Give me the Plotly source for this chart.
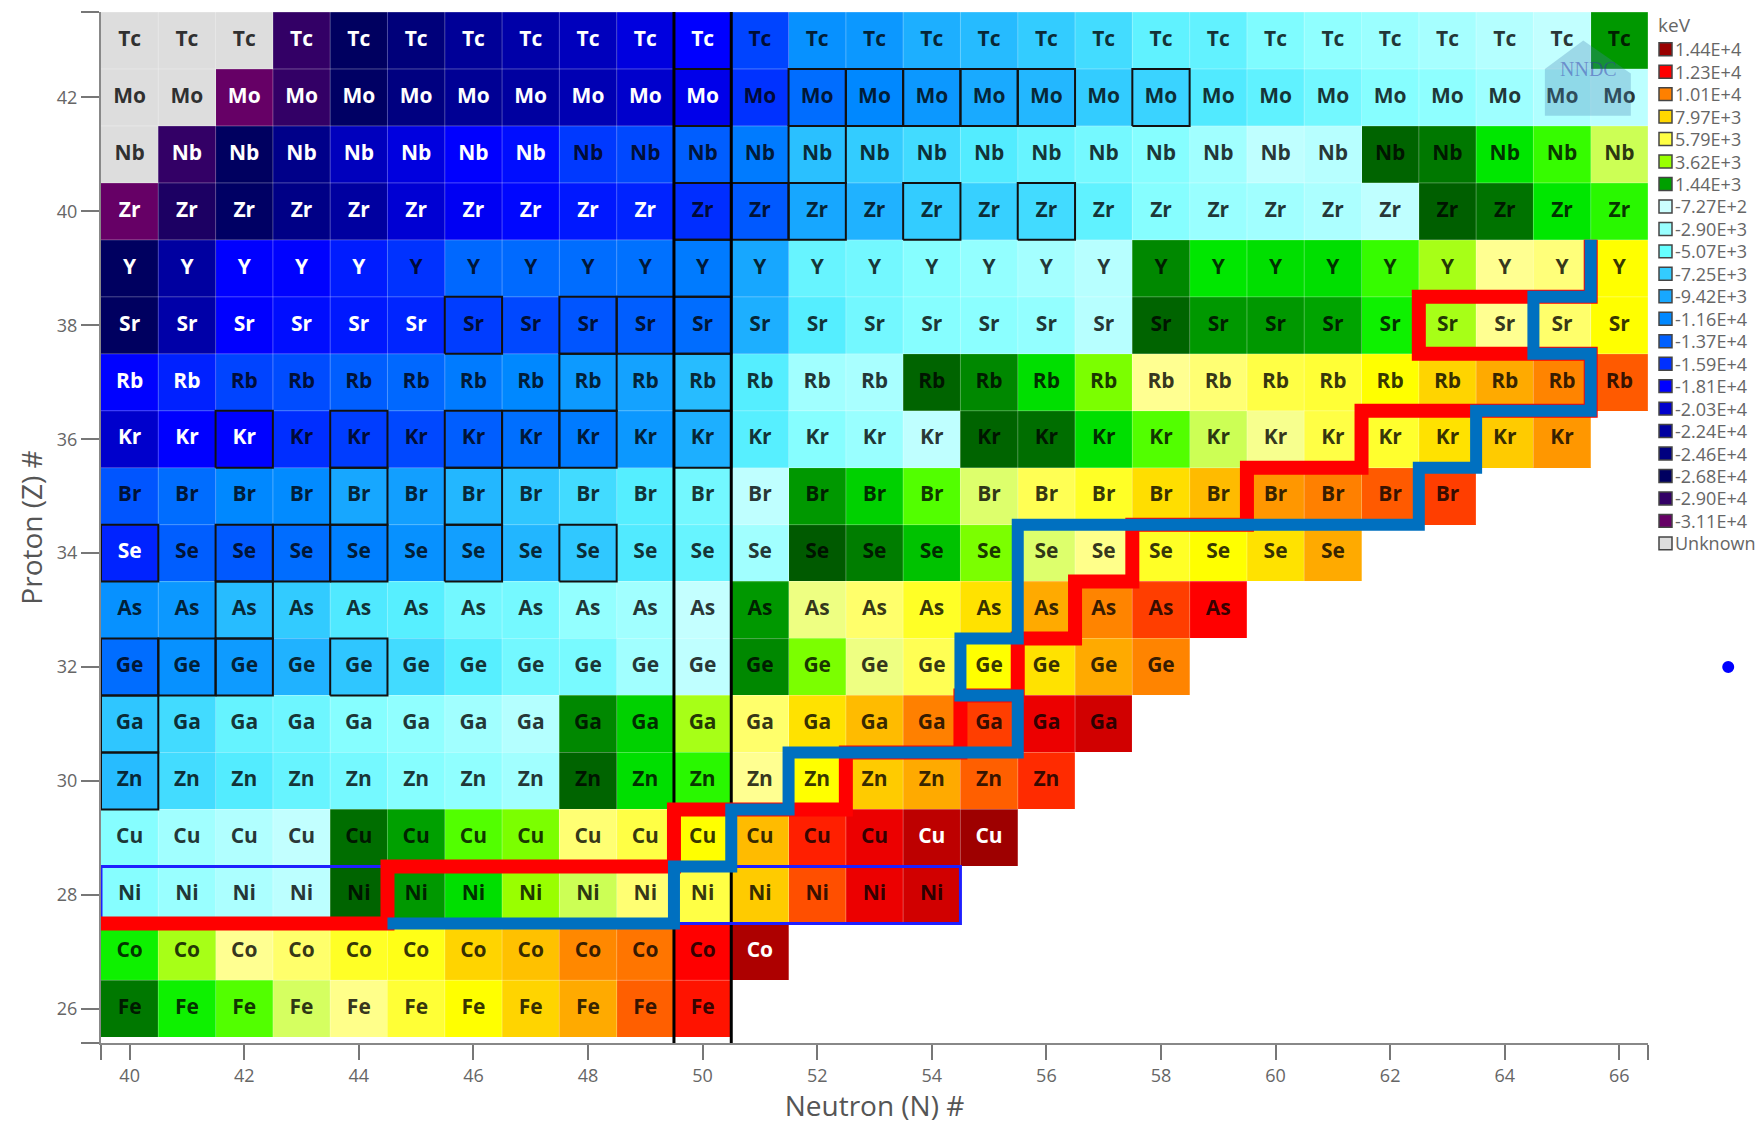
import plotly.graph_objects as go

# ---------------- data ----------------
N_VALUES = list(range(40, 67))
Z_VALUES = list(range(26, 44))
SYMBOLS = ['Fe', 'Co', 'Ni', 'Cu', 'Zn', 'Ga', 'Ge', 'As', 'Se', 'Br',
           'Kr', 'Rb', 'Sr', 'Y', 'Zr', 'Nb', 'Mo', 'Tc']

# values in keV, one list per element, starting at N=40 (None = unknown)
fe = [700, 2600, 3100, 4400, 5100, 6200, 6900, 7800, 9000, 10700, 12000]
co = [2600, 3800, 5000, 5500, 6400, 6600, 7800, 8300, 9900, 10300, 12300, 14000]
ni = [-3000, -2300, -1600, -1000, 300, 1300, 2300, 3620, 4300, 5400, 6000, 8000, 11000, 12700, 13300]
cu = [-3000, -2000, -1400, -800, 500, 1440, 3100, 3400, 5400, 6000, 6900, 8500, 11800, 12700, 13700, 14300]
zn = [-8200, -6200, -5200, -4300, -3700, -3000, -2600, -2000, 300, 2300, 2800, 5000, 6900, 8000, 9000, 10700, 11600]
ga = [-7600, -6300, -4400, -4000, -3000, -2600, -2000, -1300, 1000, 2100, 3800, 5500, 7500, 8500, 10100, 11300, 12700, 13300]
ge = [-13000, -11000, -10300, -8800, -7600, -6300, -5000, -3800, -3600, -2000, -900, 1000, 3400, 4700, 5800, 6900, 7500, 9000, 10000]
as_ = [-11000, -10500, -8200, -7300, -5400, -5000, -3800, -3700, -2500, -2000, -700, 1300, 4700, 5500, 6400, 7500, 9000, 10000, 11300, 12300]
se = [-16500, -13800, -14000, -13000, -12000, -11000, -10000, -8600, -7500, -5300, -4300, -2000, 100, 800, 1900, 3400, 4500, 5100, 6400, 6900, 7500, 9000]
br = [-14200, -13000, -11600, -11400, -9500, -10000, -8500, -7600, -6300, -5100, -3800, -900, 1300, 2100, 3100, 4500, 5800, 6400, 7600, 8500, 9500, 10100, 10800, 11300]
kr = [-20300, -18100, -18000, -16000, -15300, -14800, -13800, -12900, -12300, -10500, -9000, -5000, -3000, -2300, -900, 300, 500, 2300, 3100, 4300, 4800, 6000, 6300, 7500, 8000, 9500]
rb = [-18000, -16600, -15000, -14600, -13800, -13300, -12300, -11600, -10400, -9800, -8200, -5100, -2000, -1700, 300, 1000, 2300, 3400, 5000, 5400, 6000, 6200, 6900, 7800, 9000, 10000, 10800]
sr = [-26800, -22000, -18100, -17500, -17000, -16400, -15300, -14800, -14200, -13800, -13000, -9000, -5100, -3800, -3000, -2800, -2500, -1200, 300, 1300, 1300, 1500, 2600, 3800, 5000, 5500, 6900]
y_ = [-26800, -22400, -18100, -18000, -16800, -15800, -13300, -13200, -13000, -12800, -12300, -9500, -4300, -3800, -3000, -2500, -1900, -1200, 1000, 2400, 2300, 2300, 2900, 3800, 5000, 5300, 6900]
zr = [-31100, -28000, -26500, -24200, -22400, -20000, -18600, -17800, -17000, -16500, -16000, -14000, -9500, -8800, -7250, -7000, -6300, -4600, -3000, -2300, -2000, -1600, -900, 200, 600, 2400, 2800]
nb = [None, -29000, -26800, -24000, -21000, -19500, -18100, -17500, -15500, -14800, -13800, -12300, -8000, -7250, -6300, -5200, -4300, -3700, -3000, -2000, -900, -1200, 300, 700, 2400, 2900, 4300]
mo = [None, None, -31100, -29000, -26500, -24600, -23200, -22400, -21500, -20300, -19000, -15800, -13000, -11600, -10500, -9300, -8500, -7250, -6800, -5300, -4600, -3800, -3000, -2700, -2100, -1500, -1000]
tc = [None, None, None, -29000, -26800, -25000, -23000, -22000, -21000, -19500, -18100, -15000, -11000, -10500, -9000, -8300, -7250, -6200, -4600, -4500, -3300, -2600, -2200, -1800, -1300, -800, 1300]
ROWS = [fe, co, ni, cu, zn, ga, ge, as_, se, br, kr, rb, sr, y_, zr, nb, mo, tc]

# stable nuclides (boxed cells)
STABLE_N = [40, 40, 40, 41, 42, 44, 42, 40, 42, 43, 44, 46, 48, 44, 46, 42, 44, 46, 47, 48, 50,
            48, 50, 46, 48, 49, 50, 50, 50, 51, 52, 54, 56, 52, 50, 52, 53, 54, 55, 56, 58]
STABLE_Z = [30, 31, 32, 32, 32, 32, 33, 34, 34, 34, 34, 34, 34, 35, 35, 36, 36, 36, 36, 36, 36,
            37, 37, 38, 38, 38, 38, 39, 40, 40, 40, 40, 40, 41, 42, 42, 42, 42, 42, 42, 42]

# staircase lines
RED_N = [39.5, 44.5, 44.5, 49.5, 49.5, 52.5, 52.5, 54.5, 54.5, 55.5, 55.5, 56.5, 56.5, 57.5, 57.5,
         59.5, 59.5, 61.5, 61.5, 65.5, 65.5, 62.5, 62.5, 65.5, 65.5]
RED_Z = [27.5, 27.5, 28.5, 28.5, 29.5, 29.5, 30.5, 30.5, 31.5, 31.5, 32.5, 32.5, 33.5, 33.5, 34.5,
         34.5, 35.5, 35.5, 36.5, 36.5, 37.5, 37.5, 38.5, 38.5, 39.5]
BLUE_N = [44.5, 49.5, 49.5, 50.5, 50.5, 51.5, 51.5, 55.5, 55.5, 54.5, 54.5, 55.5, 55.5, 62.5, 62.5,
          63.5, 63.5, 65.5, 65.5, 64.5, 64.5, 65.5, 65.5]
BLUE_Z = [27.5, 27.5, 28.5, 28.5, 29.5, 29.5, 30.5, 30.5, 31.5, 31.5, 32.5, 32.5, 34.5, 34.5, 35.5,
          35.5, 36.5, 36.5, 37.5, 37.5, 38.5, 38.5, 39.5]
MAGIC_N = [49.5, 50.5]
SELECTED_Z = 28
SELECTED_N_RANGE = [39.5, 54.5]
DOT_N = 67.9
DOT_Z = 32

LEGEND_LABELS = ['1.44E+4', '1.23E+4', '1.01E+4', '7.97E+3', '5.79E+3', '3.62E+3', '1.44E+3',
                 '-7.27E+2', '-2.90E+3', '-5.07E+3', '-7.25E+3', '-9.42E+3', '-1.16E+4', '-1.37E+4',
                 '-1.59E+4', '-1.81E+4', '-2.03E+4', '-2.24E+4', '-2.46E+4', '-2.68E+4', '-2.90E+4',
                 '-3.11E+4', 'Unknown']
LEGEND_COLORS = ['#990000', '#ff0000', '#ff8000', '#ffd700', '#ffff44', '#99ff00', '#00a000',
                 '#ccffff', '#99ffff', '#66ffff', '#33ccff', '#18a8ff', '#0088ff', '#0060ff',
                 '#0030ff', '#0000ff', '#0000cc', '#0000a0', '#000080', '#000060', '#330066',
                 '#660066', '#dddddd']

# ---------------- colour scale ----------------
CS_VALS = [-31100, -29000, -26800, -24600, -22400, -20300, -18100, -15900, -13700, -11600, -9420,
           -7250, -5070, -2900, -727, -1, 0, 700, 1440, 2500, 3000, 3620, 4300, 4900, 5790, 6900,
           7970, 9000, 10100, 11200, 12300, 13400, 14400]
CS_COLS = ['#660066', '#330066', '#000060', '#000080', '#0000a0', '#0000cc', '#0000ff', '#0030ff',
           '#0060ff', '#0088ff', '#18a8ff', '#33ccff', '#55eeff', '#88ffff', '#c4ffff', '#d0ffff',
           '#005500', '#007800', '#00a000', '#00ee00', '#44ff00', '#99ff00', '#ccff55', '#ffff99',
           '#ffff55', '#ffff00', '#ffcc00', '#ffaa00', '#ff8000', '#ff4400', '#ff0000', '#cc0000',
           '#990000']
ZMIN, ZMAX = CS_VALS[0], CS_VALS[-1]
colorscale = [[(v - ZMIN) / (ZMAX - ZMIN), c] for v, c in zip(CS_VALS, CS_COLS)]

# ---------------- build matrices ----------------
z = []
zu = []
for zi, row in enumerate(ROWS):
    zr_row, zu_row = [], []
    for ni_, n in enumerate(N_VALUES):
        if ni_ < len(row):
            zr_row.append(row[ni_])
            zu_row.append(1 if row[ni_] is None else None)
        else:
            zr_row.append(None)
            zu_row.append(None)
    z.append(zr_row)
    zu.append(zu_row)

tx_w, ty_w, tt_w, tx_d, ty_d, tt_d = [], [], [], [], [], []
gx, gy = [], []
for zi, row in enumerate(ROWS):
    zz = Z_VALUES[zi]
    last = N_VALUES[len(row) - 1]
    gx += [39.5, last + 0.5, None]
    gy += [zz + 0.5, zz + 0.5, None]
    for ni_, v in enumerate(row):
        n = N_VALUES[ni_]
        gx += [n + 0.5, n + 0.5, None]
        gy += [zz - 0.5, zz + 0.5, None]
        if v is not None and (v < -16200 or v > 13500):
            tx_w.append(n); ty_w.append(zz); tt_w.append(SYMBOLS[zi])
        else:
            tx_d.append(n); ty_d.append(zz); tt_d.append(SYMBOLS[zi])

fig = go.Figure()
fig.add_trace(go.Heatmap(x=N_VALUES, y=Z_VALUES, z=z, colorscale=colorscale, zmin=ZMIN, zmax=ZMAX,
                         showscale=False, hoverinfo='skip'))
fig.add_trace(go.Heatmap(x=N_VALUES, y=Z_VALUES, z=zu, colorscale=[[0, '#dddddd'], [1, '#dddddd']],
                         showscale=False, hoverinfo='skip'))
# faint cell separators
fig.add_trace(go.Scatter(x=gx, y=gy, mode='lines', line=dict(color='rgba(255,255,255,0.3)', width=1),
                         hoverinfo='skip', showlegend=False))

TEXT_FONT = dict(family='Open Sans', size=21, weight='bold')
fig.add_trace(go.Scatter(x=tx_w, y=ty_w, text=tt_w, mode='text', textposition='middle center',
                         textfont=dict(color='white', **TEXT_FONT), hoverinfo='skip', showlegend=False))
fig.add_trace(go.Scatter(x=tx_d, y=ty_d, text=tt_d, mode='text', textposition='middle center',
                         textfont=dict(color='rgba(0,0,0,0.8)', **TEXT_FONT), hoverinfo='skip',
                         showlegend=False))

# stable boxes
bx, by = [], []
for n, zz in zip(STABLE_N, STABLE_Z):
    bx += [n - 0.5, n + 0.5, n + 0.5, n - 0.5, n - 0.5, None]
    by += [zz - 0.5, zz - 0.5, zz + 0.5, zz + 0.5, zz - 0.5, None]
fig.add_trace(go.Scatter(x=bx, y=by, mode='lines', line=dict(color='#111111', width=2),
                         hoverinfo='skip', showlegend=False))

# magic number lines
mx, my = [], []
for n in MAGIC_N:
    mx += [n, n, None]
    my += [25.4, 43.5, None]
fig.add_trace(go.Scatter(x=mx, y=my, mode='lines', line=dict(color='black', width=3),
                         hoverinfo='skip', showlegend=False))

# selected element row
s0, s1 = SELECTED_N_RANGE
fig.add_trace(go.Scatter(x=[s0, s1, s1, s0, s0],
                         y=[SELECTED_Z - 0.5, SELECTED_Z - 0.5, SELECTED_Z + 0.5, SELECTED_Z + 0.5, SELECTED_Z - 0.5],
                         mode='lines', line=dict(color='#1f1fff', width=3), hoverinfo='skip', showlegend=False))

fig.add_trace(go.Scatter(x=RED_N, y=RED_Z, mode='lines', line=dict(color='#ff0000', width=14),
                         hoverinfo='skip', showlegend=False))
fig.add_trace(go.Scatter(x=BLUE_N, y=BLUE_Z, mode='lines', line=dict(color='#0070c0', width=12),
                         hoverinfo='skip', showlegend=False))

# ---------------- layout ----------------
W, H = 1762, 1124
PL, PR, PT, PB = 101, 1648, 12, 1048
XR = [39.5, 66.5]
YR = [25.4, 43.5]


def px_x(px):
    return (px - PL) / (PR - PL)


def px_y(py):
    return (PB - py) / (PB - PT)


shapes = []
annotations = []
for i, (lab, col) in enumerate(zip(LEGEND_LABELS, LEGEND_COLORS)):
    cy = 49.4 + i * 22.57
    shapes.append(dict(type='rect', xref='paper', yref='paper',
                       x0=px_x(1659), x1=px_x(1672), y0=px_y(cy + 6.5), y1=px_y(cy - 6.5),
                       fillcolor=col, line=dict(color='#444444', width=1.5), layer='above'))
    annotations.append(dict(xref='paper', yref='paper', x=px_x(1673), y=px_y(cy), text=lab,
                            showarrow=False, xanchor='left', yanchor='middle',
                            font=dict(family='Open Sans', size=18, color='#666666')))
annotations.append(dict(xref='paper', yref='paper', x=px_x(1656), y=px_y(25), text='keV',
                        showarrow=False, xanchor='left', yanchor='middle',
                        font=dict(family='Open Sans', size=19, color='#666666')))

# stray blue point (outside the axis range) drawn in paper space
dpx = (DOT_N - XR[0]) / (XR[1] - XR[0])
dpy = (DOT_Z - YR[0]) / (YR[1] - YR[0])
rx, ry = 6 / (PR - PL), 6 / (PB - PT)
shapes.append(dict(type='circle', xref='paper', yref='paper', x0=dpx - rx, x1=dpx + rx,
                   y0=dpy - ry, y1=dpy + ry, fillcolor='#0000ff', line=dict(width=0)))

# NNDC watermark
shapes.append(dict(type='path', xref='x', yref='y',
                   path='M 64.7 41.68 L 64.7 42.5 L 65.37 43.0 L 66.2 42.42 L 66.2 41.68 Z',
                   fillcolor='rgba(70,130,180,0.3)', line=dict(width=0), layer='above'))
annotations.append(dict(xref='x', yref='y', x=65.46, y=42.5, text='NNDC', showarrow=False,
                        font=dict(family='Liberation Serif', size=20, color='rgba(50,50,170,0.45)')))

xt = [XR[0]] + list(range(40, 67, 2)) + [XR[1]]
xl = [''] + [str(v) for v in range(40, 67, 2)] + ['']
yt = [YR[0]] + list(range(26, 43, 2)) + [YR[1]]
yl = [''] + [str(v) for v in range(26, 43, 2)] + ['']

fig.update_layout(
    width=W, height=H,
    margin=dict(l=PL, r=W - PR, t=PT, b=H - PB, pad=0),
    paper_bgcolor='white', plot_bgcolor='white',
    showlegend=False,
    shapes=shapes, annotations=annotations,
    font=dict(family='Open Sans', color='#555555'),
    xaxis=dict(range=XR, showgrid=False, zeroline=False, showline=True,
               linecolor='#888888', linewidth=2, ticks='outside', ticklen=15, tickwidth=2,
               tickcolor='#777777', tickvals=xt, ticktext=xl,
               tickfont=dict(family='Open Sans', size=18, color='#666666'),
               title=dict(text='Neutron (N) #', font=dict(family='Open Sans', size=28, color='#555555'),
                          standoff=6)),
    yaxis=dict(range=YR, showgrid=False, zeroline=False, showline=True,
               linecolor='#888888', linewidth=2, ticks='outside', ticklen=18, tickwidth=2,
               tickcolor='#777777', tickvals=yt, ticktext=yl,
               tickfont=dict(family='Open Sans', size=18, color='#666666'),
               title=dict(text='Proton (Z) #', font=dict(family='Open Sans', size=28, color='#555555'),
                          standoff=6)),
)

fig.write_html("out.html", config={'displayModeBar': False},
               post_script="document.body.style.margin='0';document.body.style.overflow='hidden';")
